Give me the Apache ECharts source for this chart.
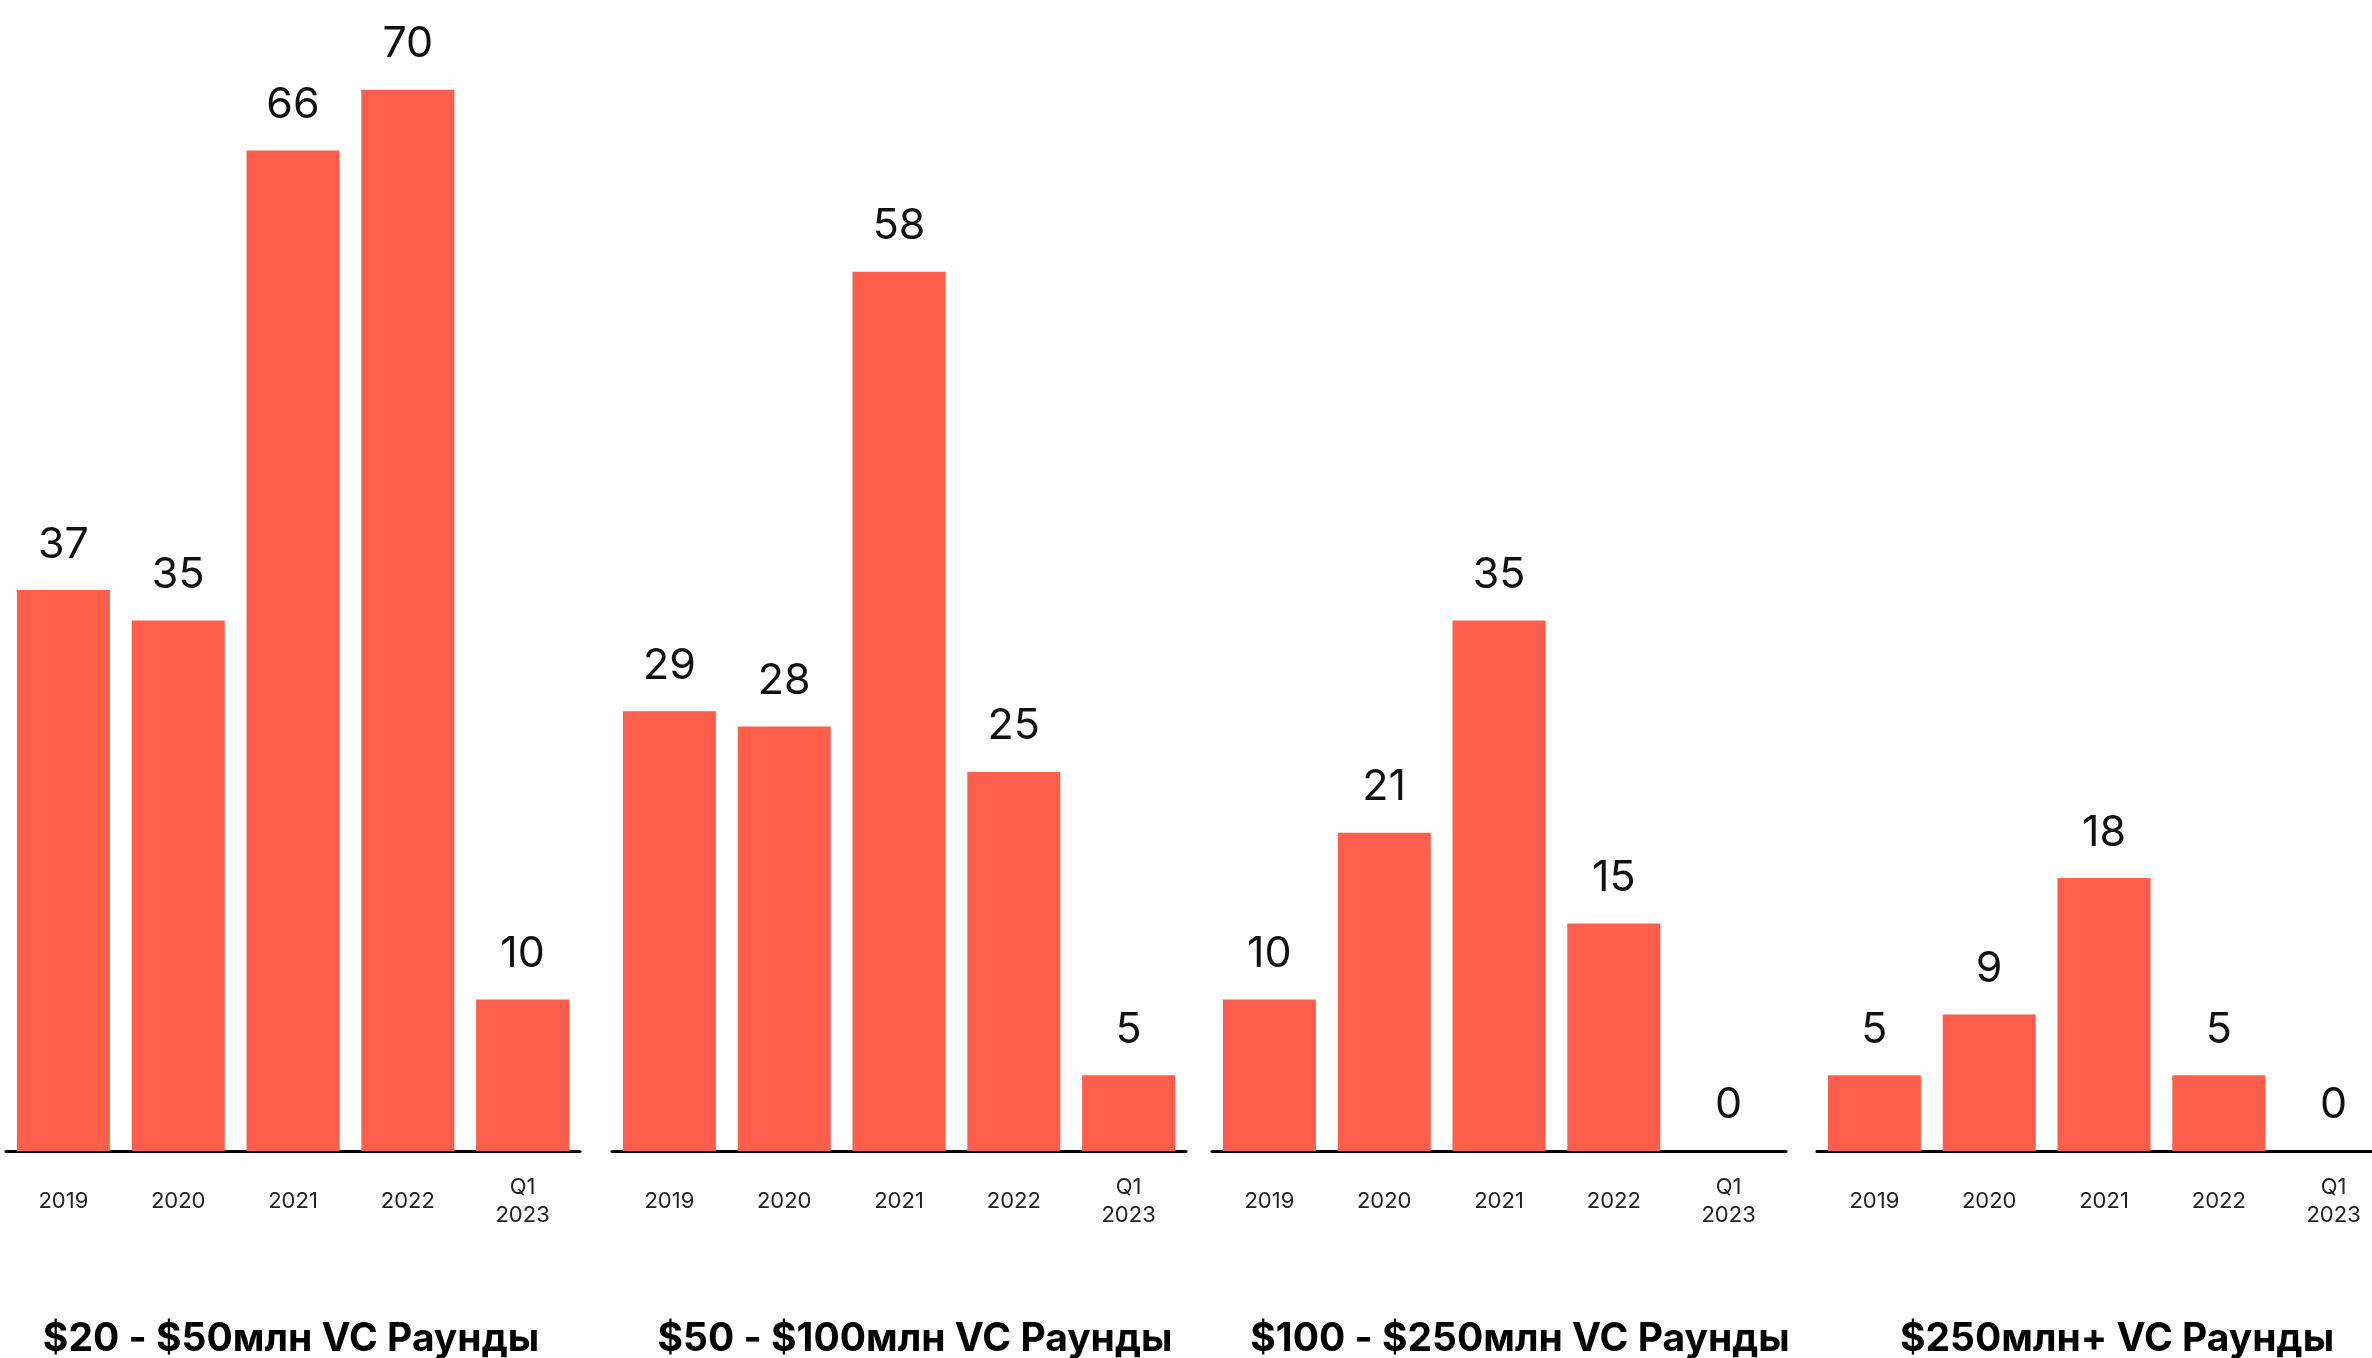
<!DOCTYPE html>
<html>
<head>
<meta charset="utf-8">
<script src="https://cdn.jsdelivr.net/npm/echarts@6/dist/echarts.min.js"></script>
<style>
  html, body { margin: 0; padding: 0; background: #fff; overflow: hidden; }
  #container { width: 2400px; height: 1358px; }
</style>
</head>
<body>
<div id="container"></div>
<script>
  var categories = ['2019', '2020', '2021', '2022', 'Q1\n2023'];
  var titles = ['$20 - $50млн VC Раунды', '$50 - $100млн VC Раунды', '$100 - $250млн VC Раунды', '$250млн+ VC Раунды'];
  var rounds20to50 = [37, 35, 66, 70, 10];
  var rounds50to100 = [29, 28, 58, 25, 5];
  var rounds100to250 = [10, 21, 35, 15, 0];
  var rounds250plus = [5, 9, 18, 5, 0];
  var seriesData = [rounds20to50, rounds50to100, rounds100to250, rounds250plus];

  // panel layout (px): left edge, title centre
  var panels = [
    { left: 6, titleX: 291 },
    { left: 612, titleX: 915 },
    { left: 1212, titleX: 1520 },
    { left: 1817, titleX: 2117 }
  ];

  var dom = document.getElementById('container');
  var myChart = echarts.init(dom);
  var grids = [], xAxes = [], yAxes = [], series = [], graphics = [];

  panels.forEach(function (p, i) {
    grids.push({ left: p.left, width: 574, top: 14, bottom: 207 });
    xAxes.push({
      type: 'category',
      gridIndex: i,
      data: categories,
      axisLine: { show: true, lineStyle: { color: '#000', width: 3 } },
      axisTick: { show: false },
      axisLabel: {
        interval: 0,
        margin: 50,
        verticalAlign: 'middle',
        fontFamily: 'Inter',
        fontSize: 22,
        lineHeight: 28,
        color: '#222'
      }
    });
    yAxes.push({
      type: 'value',
      gridIndex: i,
      min: 0,
      max: 75,
      show: false,
      splitLine: { show: false }
    });
    series.push({
      type: 'bar',
      xAxisIndex: i,
      yAxisIndex: i,
      data: seriesData[i],
      barWidth: 93,
      itemStyle: { color: '#ff5e4d' },
      label: {
        show: true,
        position: 'top',
        distance: 24,
        fontFamily: 'Inter',
        fontSize: 43,
        color: '#111'
      }
    });
    graphics.push({
      type: 'text',
      x: p.titleX,
      y: 1339,
      style: {
        text: titles[i],
        fontFamily: 'Inter',
        fontWeight: 'bold',
        fontSize: 39,
        fill: '#000',
        textAlign: 'center',
        textVerticalAlign: 'middle'
      }
    });
  });

  var option = {
    animation: false,
    grid: grids,
    xAxis: xAxes,
    yAxis: yAxes,
    series: series,
    graphic: graphics
  };
  myChart.setOption(option, true);
</script>
</body>
</html>
